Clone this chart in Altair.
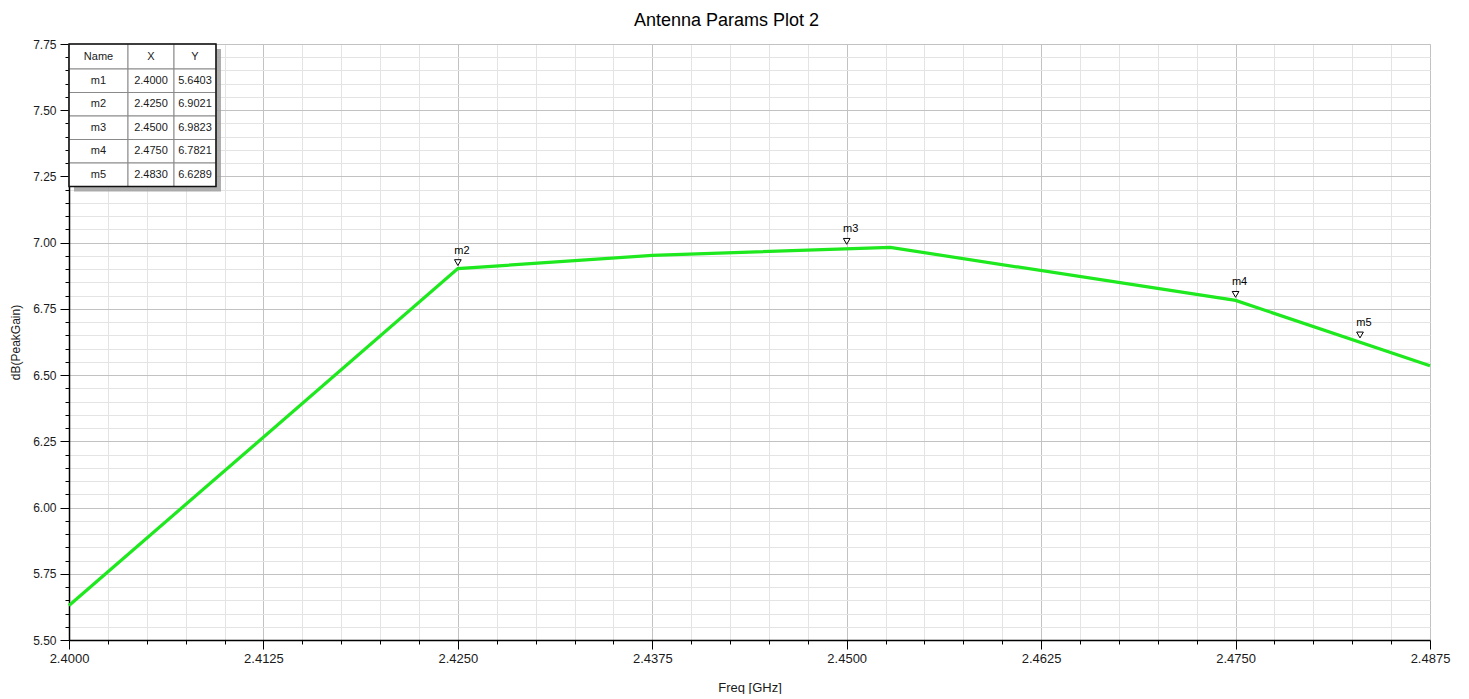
import altair as alt
import pandas as pd

# ---------------- data ----------------
freq = [2.4000, 2.4250, 2.4375, 2.4528, 2.4750, 2.4875]
gain = [5.630, 6.902, 6.952, 6.982, 6.782, 6.535]

marker_names = ["m1", "m2", "m3", "m4", "m5"]
marker_x = [2.4000, 2.4250, 2.4500, 2.4750, 2.4830]
marker_y = [5.6403, 6.9021, 6.9823, 6.7821, 6.6289]
marker_shown = [False, True, True, True, True]

x_major = [2.4000, 2.4125, 2.4250, 2.4375, 2.4500, 2.4625, 2.4750, 2.4875]
y_major = [5.50, 5.75, 6.00, 6.25, 6.50, 6.75, 7.00, 7.25, 7.50, 7.75]
x_minor = [round(a + k * (b - a) / 5, 5) for a, b in zip(x_major[:-1], x_major[1:]) for k in range(1, 5)]
y_minor = [round(a + k * (b - a) / 5, 4) for a, b in zip(y_major[:-1], y_major[1:]) for k in range(1, 5)]

table_header = ["Name", "X", "Y"]

# ---------------- layout constants ----------------
W, H = 1361, 596
FONT = "Liberation Sans"
col_edges = [0, 59, 105, 147]
row_edges = [0, 25, 48.5, 72, 95.5, 119, 142.5]

line_df = pd.DataFrame({"freq": freq, "gain": gain})
mk = pd.DataFrame({"name": marker_names, "mx": marker_x, "my": marker_y, "shown": marker_shown})
mk_shown = mk[mk["shown"]]

cells = []
rows = [table_header] + [[n, f"{x:.4f}", f"{y:.4f}"] for n, x, y in zip(marker_names, marker_x, marker_y)]
for r, row in enumerate(rows):
    for c, txt in enumerate(row):
        cells.append({
            "x0": col_edges[c], "x1": col_edges[c + 1],
            "y0": row_edges[r], "y1": row_edges[r + 1],
            "xc": (col_edges[c] + col_edges[c + 1]) / 2,
            "yc": (row_edges[r] + row_edges[r + 1]) / 2,
            "txt": txt,
        })
cells_df = pd.DataFrame(cells)
frame_df = pd.DataFrame({"x0": [col_edges[0]], "x1": [col_edges[-1]],
                         "y0": [row_edges[0]], "y1": [row_edges[-1]]})
SH = 5
shadow_df = pd.DataFrame({"x0": [col_edges[0] + SH], "x1": [col_edges[-1] + SH],
                          "y0": [row_edges[0] + SH], "y1": [row_edges[-1] + SH]})

x_scale = alt.Scale(domain=[x_major[0], x_major[-1]], nice=False, zero=False)
y_scale = alt.Scale(domain=[y_major[0], y_major[-1]], nice=False, zero=False)

common_axis = dict(tickColor="black", labelFont=FONT, titleFont=FONT,
                   labelColor="#1a1a1a", titleColor="#1a1a1a", titleFontWeight="normal")

# minor grid / ticks (carried by the marker layer)
markers = alt.Chart(mk_shown).mark_point(
    shape="triangle-down", filled=True, fill="white", stroke="black",
    strokeWidth=1, size=45, yOffset=-6, opacity=1
).encode(
    x=alt.X("mx:Q", scale=x_scale, axis=alt.Axis(
        values=x_minor, orient="bottom", labels=False, domain=False, tickSize=4,
        tickColor="black", grid=True, gridColor="#e4e4e4", gridWidth=1, title=None)),
    y=alt.Y("my:Q", scale=y_scale, axis=alt.Axis(
        values=y_minor, orient="left", labels=False, domain=False, tickSize=4,
        tickColor="black", grid=True, gridColor="#e4e4e4", gridWidth=1, title=None)),
)

line = alt.Chart(line_df).mark_line(color="#1ee81e", strokeWidth=3.2).encode(
    x=alt.X("freq:Q", scale=x_scale, axis=alt.Axis(
        values=x_major, format=".4f", orient="bottom", title="Freq [GHz]",
        grid=True, gridColor="#c2c2c2", gridWidth=1, tickSize=9, domainColor="black",
        domainWidth=1.5, labelPadding=3, titlePadding=16, labelFontSize=13,
        titleFontSize=13, labelFlush=False, **common_axis)),
    y=alt.Y("gain:Q", scale=y_scale, axis=alt.Axis(
        values=y_major, format=".2f", orient="left", title="dB(PeakGain)",
        grid=True, gridColor="#c2c2c2", gridWidth=1, tickSize=9, domainColor="black",
        domainWidth=1.5, labelPadding=4, titlePadding=10, labelFontSize=12,
        titleFontSize=12, labelFlush=False, **common_axis)),
)

labels = alt.Chart(mk_shown).mark_text(
    font=FONT, fontSize=11, color="black", dy=-18, dx=4
).encode(
    x=alt.X("mx:Q", scale=x_scale, axis=None),
    y=alt.Y("my:Q", scale=y_scale, axis=None),
    text="name:N",
)

shadow = alt.Chart(shadow_df).mark_rect(fill="#a0a0a0", opacity=0.85).encode(
    x=alt.X("x0:Q", scale=None), x2="x1:Q",
    y=alt.Y("y0:Q", scale=None), y2="y1:Q",
)
cell_rects = alt.Chart(cells_df).mark_rect(fill="white", stroke="#8a8a8a", strokeWidth=1).encode(
    x=alt.X("x0:Q", scale=None), x2="x1:Q",
    y=alt.Y("y0:Q", scale=None), y2="y1:Q",
)
frame = alt.Chart(frame_df).mark_rect(fill="white", fillOpacity=0, stroke="#111111", strokeWidth=1.5).encode(
    x=alt.X("x0:Q", scale=None), x2="x1:Q",
    y=alt.Y("y0:Q", scale=None), y2="y1:Q",
)
cell_text = alt.Chart(cells_df).mark_text(font=FONT, fontSize=11, color="#1a1a1a").encode(
    x=alt.X("xc:Q", scale=None),
    y=alt.Y("yc:Q", scale=None),
    text="txt:N",
)

chart = alt.layer(
    markers, line, labels, shadow, cell_rects, frame, cell_text
).resolve_axis(
    x="independent", y="independent"
).properties(
    width=W, height=H,
    padding={"left": 1, "top": 4, "right": 5, "bottom": 0},
    title=alt.TitleParams("Antenna Params Plot 2", font=FONT, fontSize=18,
                          fontWeight="normal", color="black", offset=8, dx=-23),
).configure_view(
    stroke="#333333", strokeWidth=1.5
).configure(background="white")

chart.save("out.html", embed_options={"renderer": "svg", "actions": False})
